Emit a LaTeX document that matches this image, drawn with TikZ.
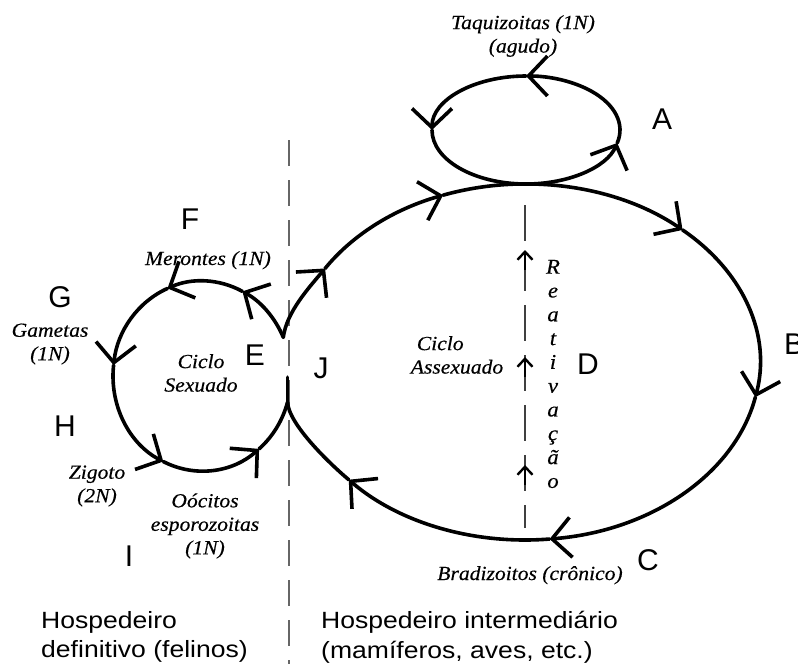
\documentclass[tikz,border=0pt]{standalone}
\usepackage{fontspec}
\setmainfont{Liberation Serif}
\newfontfamily\serifw{Liberation Serif}[FakeStretch=1.08,FakeBold=0.4]
\newfontfamily\arialf{Liberation Sans}
\newfontfamily\arialw{Liberation Sans}[FakeStretch=1.13]
\usetikzlibrary{arrows.meta}
\begin{document}
\begin{tikzpicture}[x=1pt,y=-1pt,
  cyc/.style={line width=3.6pt, line cap=round, line join=round},
  cycarr/.style={cyc, -{Straight Barb[length=19pt,width=40pt]}},
  sep/.style={black!60, line width=1.6pt, dash pattern=on 26pt off 14pt},
  react/.style={black!75, line width=1.8pt, dash pattern=on 36pt off 14pt},
  smallarr/.style={line width=2.4pt, -{Straight Barb[length=8pt,width=15pt]}},
  lab/.style={font=\fontsize{20}{23.5}\selectfont\serifw\itshape, align=center, inner sep=0pt},
  vlab/.style={font=\fontsize{21}{23.8}\selectfont\serifw\itshape, align=center, inner sep=0pt},
  letter/.style={font=\fontsize{30}{32}\selectfont\arialf, inner sep=0pt},
  host/.style={font=\fontsize{23.5}{29.5}\selectfont\arialw, align=left, inner sep=0pt, anchor=north west}
]
\useasboundingbox (0,0) rectangle (798,664);
\coordinate (bc) at (525,362);
\coordinate (sc) at (202,376);
\coordinate (tc) at (526,130);

% separators
\draw[sep] (289,140) -- (289,664);
\draw[react] (525,205) -- (525,528);
\draw[smallarr] (525,270) -- (525,250);
\draw[smallarr] (525,377) -- (525,357);
\draw[smallarr] (525,485) -- (525,465);

% top small ellipse (counterclockwise)
\foreach \a/\b in {13.9/-90, -90/-180, -180/-346.1}
  \draw[cycarr] (tc) ++(\a:94 and 54) arc[start angle=\a, end angle=\b, x radius=94, y radius=54];

% small circle (sexual cycle)
\path (sc) ++(-24:89 and 95) coordinate (cusp);
\path (sc) ++(-344:89 and 95) coordinate (junc);
\foreach \a/\b in {-24/-63, -63/-112.8, -112.8/-173.4, -173.4/-244.2, -244.2/-309.9}
  \draw[cycarr] (sc) ++(\a:89 and 95) arc[start angle=\a, end angle=\b, x radius=89, y radius=95];
\draw[cyc] (sc) ++(-309.9:89 and 95) arc[start angle=-309.9, end angle=-344, x radius=89, y radius=95];

% big ellipse (asexual cycle)
\path (bc) ++(211.7:235 and 178) coordinate (bA);
\path (bc) ++(498.6:235 and 178) coordinate (bF);
\draw[cycarr] (cusp) .. controls +(3,-25) and +(-16,19) .. (bA);
\foreach \a/\b in {211.7/249.6, 249.6/312.1, 312.1/371.4, 371.4/444, 444/498.6}
  \draw[cycarr] (bc) ++(\a:235 and 178) arc[start angle=\a, end angle=\b, x radius=235, y radius=178];
\draw[cyc] (bF) .. controls +(-19,-16) and +(1,22) .. (junc);
\draw[cyc] (junc) -- ++(0,-25);

% labels
\node[lab] (taq) at (523,36) {Taquizoitas (1N)\\(agudo)};
\node[lab, anchor=base] (mer) at (208,265) {Merontes (1N)};
\node[lab] (gam) at (50,344) {Gametas\\(1N)};
\node[lab] (cs) at (201,373) {Ciclo\\Sexuado};
\node[lab] (zig) at (97,486) {Zigoto\\(2N)};
\node[lab] (ooc) at (205,526) {Oócitos\\esporozoitas\\(1N)};
\node[lab, align=left] (ca) at (457,355) {\hspace*{6pt}Ciclo\\Assexuado};
\node[vlab] (rea) at (553,374) {R\\e\\a\\t\\i\\v\\a\\ç\\ã\\o};
\node[lab, anchor=base] (bra) at (530,580) {Bradizoitos (crônico)};

\node[letter] (lA) at (662,119) {A};
\node[letter] (lB) at (794,344) {B};
\node[letter] (lC) at (648,560) {C};
\node[letter] (lD) at (588,364) {D};
\node[letter] (lE) at (255,355) {E};
\node[letter] (lF) at (190,219) {F};
\node[letter] (lG) at (60,297) {G};
\node[letter] (lH) at (65,426) {H};
\node[letter] (lI) at (129,556) {I};
\node[letter] (lJ) at (321,368) {J};

\node[host] (h1) at (41,611) {Hospedeiro\\definitivo (felinos)};
\node[host] (h2) at (321,611) {Hospedeiro intermediário\\(mamíferos, aves, etc.)};
\end{tikzpicture}
\end{document}
